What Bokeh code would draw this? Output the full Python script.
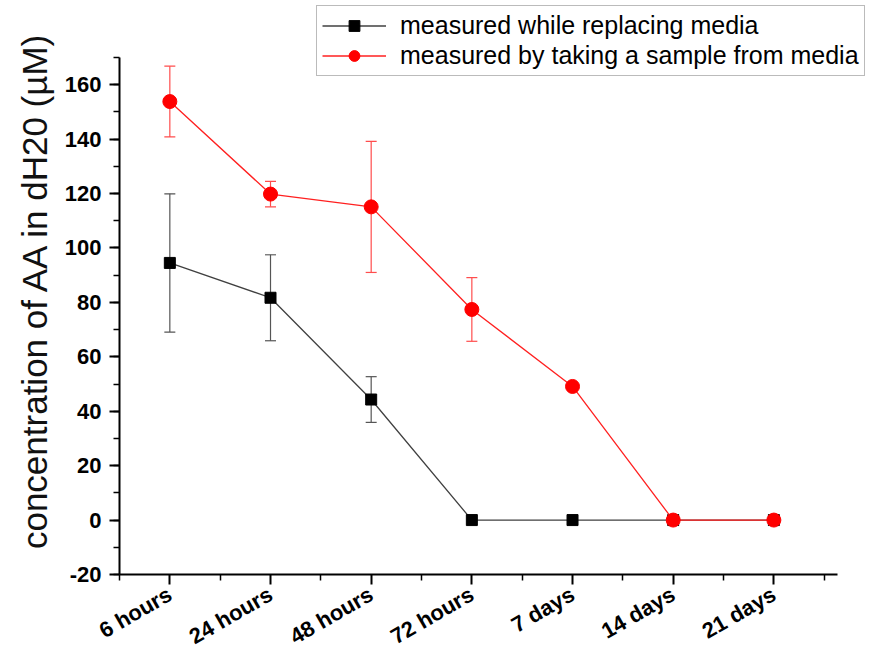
import math
from bokeh.plotting import figure
from bokeh.models import (ColumnDataSource, Whisker, TeeHead, FixedTicker,
                          SingleIntervalTicker, Range1d, Legend)
from bokeh.embed import file_html
from bokeh.resources import INLINE

categories = ["6 hours", "24 hours", "48 hours", "72 hours", "7 days", "14 days", "21 days"]
replacing_mean = [94.5, 81.7, 44.3, 0, 0, 0, 0]
replacing_err = [25.4, 15.8, 8.4, 0, 0, 0, 0]
sample_mean = [153.8, 119.8, 115.1, 77.4, 49.1, 0, 0]
sample_err = [13.0, 4.7, 24.1, 11.7, 0, 0, 0]

FONT = "Liberation Sans"
xs = list(range(len(categories)))

# frame spans almost the whole window so the legend (which sits above the axes) is not clipped;
# the visible axes are limited with axis bounds
p = figure(width=889, height=670, output_backend="svg", toolbar_location=None,
           x_range=Range1d(-0.5, 7.099), y_range=Range1d(-20, 189.1),
           min_border_left=119, min_border_right=5, min_border_top=5, min_border_bottom=96)
p.outline_line_color = None
p.grid.grid_line_color = None
p.background_fill_color = "white"
p.border_fill_color = "white"

def err_source(means, errs):
    x, lo, hi = [], [], []
    for i, (m, e) in enumerate(zip(means, errs)):
        if e > 0:
            x.append(i); lo.append(m - e); hi.append(m + e)
    return ColumnDataSource(dict(x=x, lower=lo, upper=hi))

# series 1: measured while replacing media
src1 = ColumnDataSource(dict(x=xs, y=replacing_mean))
w1 = Whisker(source=err_source(replacing_mean, replacing_err), base="x", lower="lower", upper="upper",
             line_color="#555555", line_width=1.2,
             lower_head=TeeHead(size=11, line_color="#555555", line_width=1.2),
             upper_head=TeeHead(size=11, line_color="#555555", line_width=1.2))
p.add_layout(w1)
l1 = p.line("x", "y", source=src1, line_color="#404040", line_width=1.3)
s1 = p.scatter("x", "y", source=src1, marker="square", size=11, fill_color="black", line_color="black")

# series 2: measured by taking a sample from media
src2 = ColumnDataSource(dict(x=xs, y=sample_mean))
w2 = Whisker(source=err_source(sample_mean, sample_err), base="x", lower="lower", upper="upper",
             line_color="#ff4d4d", line_width=1.2,
             lower_head=TeeHead(size=11, line_color="#ff4d4d", line_width=1.2),
             upper_head=TeeHead(size=11, line_color="#ff4d4d", line_width=1.2))
p.add_layout(w2)
l2 = p.line("x", "y", source=src2, line_color="#ff2020", line_width=1.3)
s2 = p.scatter("x", "y", source=src2, marker="circle", size=14, fill_color="#ff0000", line_color="#ff0000")

# axes
p.xaxis.ticker = FixedTicker(ticks=xs, minor_ticks=[i + 0.5 for i in range(-1, 7)])
p.xaxis.major_label_overrides = {i: c for i, c in enumerate(categories)}
p.xaxis.major_label_orientation = math.pi / 6
p.xaxis.bounds = (-0.5, 6.63)
p.yaxis.ticker = SingleIntervalTicker(interval=20, num_minor_ticks=2)
p.yaxis.major_label_overrides = {-20: "-20"}
p.yaxis.bounds = (-20, 170)
for ax in (p.xaxis, p.yaxis):
    ax.axis_line_width = 2
    ax.axis_line_color = "black"
    ax.major_tick_line_width = 2
    ax.minor_tick_line_width = 1.5
    ax.major_tick_line_color = "black"
    ax.minor_tick_line_color = "black"
    ax.major_tick_out = 10
    ax.major_tick_in = 0
    ax.minor_tick_out = 6
    ax.minor_tick_in = 0
    ax.major_label_text_font = FONT
    ax.major_label_text_font_style = "bold"
    ax.major_label_text_color = "black"
p.xaxis.major_label_text_font_size = "22px"
p.yaxis.major_label_text_font_size = "22px"
p.xaxis.major_label_standoff = 8
p.yaxis.major_label_standoff = 8
p.yaxis.axis_label = "concentration of AA in dH20 (\u00b5M)"
p.yaxis.axis_label_text_font = FONT
p.yaxis.axis_label_text_font_style = "normal"
p.yaxis.axis_label_text_font_size = "35px"
p.yaxis.axis_label_text_color = "#111111"
p.yaxis.axis_label_standoff = 8

legend = Legend(items=[("measured while replacing media", [l1, s1]),
                       ("measured by taking a sample from media", [l2, s2])],
                location=(197, 498), orientation="vertical",
                label_text_font=FONT, label_text_font_size="25px", label_text_color="black",
                glyph_width=64, glyph_height=27, label_height=27, label_standoff=14,
                padding=5, spacing=1, margin=0,
                border_line_color="#777777", border_line_width=1.5,
                background_fill_color="white", background_fill_alpha=1.0)
p.add_layout(legend, "center")

open("out.html", "w").write(file_html(p, INLINE))
